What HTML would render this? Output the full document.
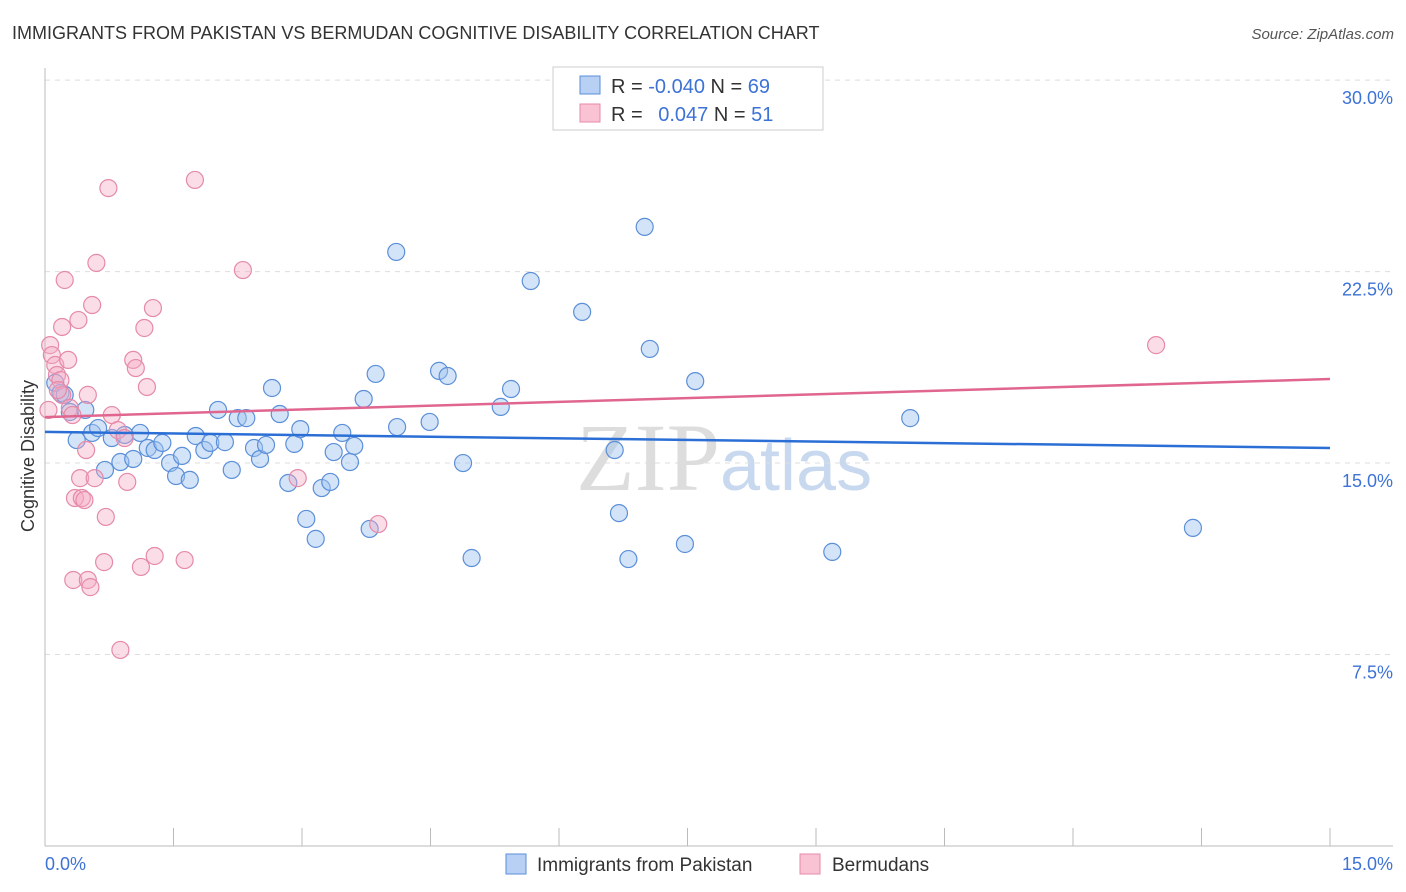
<!DOCTYPE html>
<html><head><meta charset="utf-8"><style>
body{margin:0;background:#fff;font-family:"Liberation Sans",sans-serif}
svg{display:block}
</style></head><body>
<svg id="chart" width="1406" height="892">
<text x="12" y="39" font-size="18" fill="#333">IMMIGRANTS FROM PAKISTAN VS BERMUDAN COGNITIVE DISABILITY CORRELATION CHART</text>
<text x="1394" y="39" font-size="15" fill="#555" font-style="italic" text-anchor="end">Source: ZipAtlas.com</text>
<text x="720" y="490" font-size="96" fill="#ddd" text-anchor="end" font-family="Liberation Serif">ZIP</text>
<text x="720" y="490" font-size="72" fill="#c8d9ef">atlas</text>
<g id="grid"></g>
<g id="axes"></g>
<g id="pts"></g>
<g id="lines"></g>
<text x="34" y="456" font-size="18" fill="#333" text-anchor="middle" transform="rotate(-90 34 456)">Cognitive Disability</text>
<text x="45" y="870" font-size="18" fill="#3d72d6">0.0%</text>
<text x="1393" y="870" font-size="18" fill="#3d72d6" text-anchor="end">15.0%</text>
<g>
<rect x="553" y="67" width="270" height="63" fill="#fff" stroke="#ccc"/>
<rect x="580" y="76" width="20" height="18" fill="#b7d0f3" stroke="#5b8fd8"/>
<rect x="580" y="104" width="20" height="18" fill="#f9c3d3" stroke="#e58aa8"/>
<text x="611" y="93" font-size="20" fill="#333">R = <tspan fill="#3d72d6">-0.040</tspan>   N = <tspan fill="#3d72d6">69</tspan></text>
<text x="611" y="121" font-size="20" fill="#333">R =  <tspan fill="#3d72d6" dx="10">0.047</tspan>   N =  <tspan fill="#3d72d6">51</tspan></text>
</g>
<g><rect x="506" y="854" width="20" height="20" fill="#b7d0f3" stroke="#5b8fd8"/><text x="537" y="871" font-size="19" fill="#333">Immigrants from Pakistan</text></g>
<g><rect x="800" y="854" width="20" height="20" fill="#f9c3d3" stroke="#e58aa8"/><text x="832" y="871" font-size="19" fill="#333">Bermudans</text></g>
</svg>
<script>
const yTicks=[7.5,15,22.5,30];
const yTickLabels=["7.5%","15.0%","22.5%","30.0%"];
const blueX=[0.12,0.18,0.23,0.29,0.47,0.37,0.55,0.62,0.78,0.93,1.11,0.70,0.88,1.03,1.20,1.28,1.37,1.46,1.53,1.60,1.69,1.76,1.86,1.93,2.02,2.10,2.18,2.25,2.35,2.44,2.51,2.58,2.65,2.74,2.84,2.91,2.98,3.05,3.16,3.23,3.33,3.37,3.47,3.56,3.61,3.72,3.79,3.86,4.11,4.10,4.49,4.60,4.70,4.88,4.98,5.32,5.44,5.67,6.27,6.65,6.70,6.81,7.00,7.06,7.47,7.59,9.19,10.10,13.40];
const blueY=[18.14,17.74,17.67,17.0,17.08,15.9,16.18,16.37,15.98,16.1,16.18,14.73,15.04,15.16,15.59,15.51,15.79,15.0,14.49,15.28,14.34,16.06,15.51,15.79,17.08,15.82,14.73,16.76,16.76,15.59,15.16,15.71,17.94,16.92,14.22,15.75,16.33,12.81,12.03,14.02,14.26,15.43,16.18,15.04,15.67,17.51,12.42,18.49,16.41,23.27,16.61,18.61,18.41,15.0,11.28,17.2,17.9,22.13,20.92,15.51,13.04,11.24,24.25,19.47,11.83,18.21,11.52,16.76,12.46];
const pinkX=[0.06,0.08,0.12,0.14,0.18,0.20,0.23,0.20,0.27,0.29,0.32,0.35,0.33,0.39,0.41,0.43,0.46,0.48,0.50,0.53,0.55,0.60,0.58,0.69,0.71,0.74,0.78,0.85,0.88,0.93,0.96,1.03,1.06,1.12,1.16,1.19,1.26,1.28,1.63,1.75,2.31,2.95,3.89,12.97,0.04,0.15,0.50];
const pinkY=[19.62,19.23,18.84,18.45,18.25,17.67,22.17,20.33,19.04,17.16,16.88,13.63,10.42,20.6,14.41,13.63,13.55,15.51,10.42,10.14,21.19,22.84,14.41,11.12,12.89,25.77,16.88,16.29,7.68,15.98,14.26,19.04,18.72,10.93,20.29,17.98,21.07,11.36,11.2,26.09,22.56,14.41,12.61,19.62,17.08,17.86,17.67];
const blueTrend=[16.22,15.59];
const pinkTrend=[16.80,18.29];
const NS="http://www.w3.org/2000/svg";
const X=v=>45+v/15*1285, Y=v=>846-v*25.53;
function mk(t,a,p){const e=document.createElementNS(NS,t);for(const k in a)e.setAttribute(k,a[k]);document.getElementById(p).appendChild(e);return e;}
yTicks.forEach((t,i)=>{
 const g=mk('line',{x1:45,x2:1393,y1:Y(t),y2:Y(t),stroke:'#ddd','stroke-dasharray':'5,5'},'grid');
 
 
 const l=mk('text',{x:1393,y:Y(t)+24,'font-size':18,fill:'#3d72d6','text-anchor':'end'},'grid');
 l.textContent=yTickLabels[i];
 
 
});
const ya=mk('line',{x1:45,x2:45,y1:68,y2:846,stroke:'#bbb'},'axes');


const xa=mk('line',{x1:45,x2:1393,y1:846,y2:846,stroke:'#bbb'},'axes');


for(let i=0;i<=10;i++){const t=mk('line',{x1:X(i*1.5),x2:X(i*1.5),y1:828,y2:846,stroke:'#bbb'},'axes');
 
 }
blueX.forEach((v,i)=>{const c=mk('circle',{cx:X(v),cy:Y(blueY[i]),r:8.5,fill:'rgba(160,196,240,0.45)',stroke:'#5b8fd8','stroke-width':1.2},'pts');
 
 });
pinkX.forEach((v,i)=>{const c=mk('circle',{cx:X(v),cy:Y(pinkY[i]),r:8.5,fill:'rgba(245,170,195,0.4)',stroke:'#e58aa8','stroke-width':1.2},'pts');
 
 });
const bl=mk('line',{x1:X(0),x2:X(15),y1:Y(blueTrend[0]),y2:Y(blueTrend[1]),stroke:'#2b6fd6','stroke-width':2.5},'lines');


const pl=mk('line',{x1:X(0),x2:X(15),y1:Y(pinkTrend[0]),y2:Y(pinkTrend[1]),stroke:'#e06690','stroke-width':2.5},'lines');


</script>
</body></html>
